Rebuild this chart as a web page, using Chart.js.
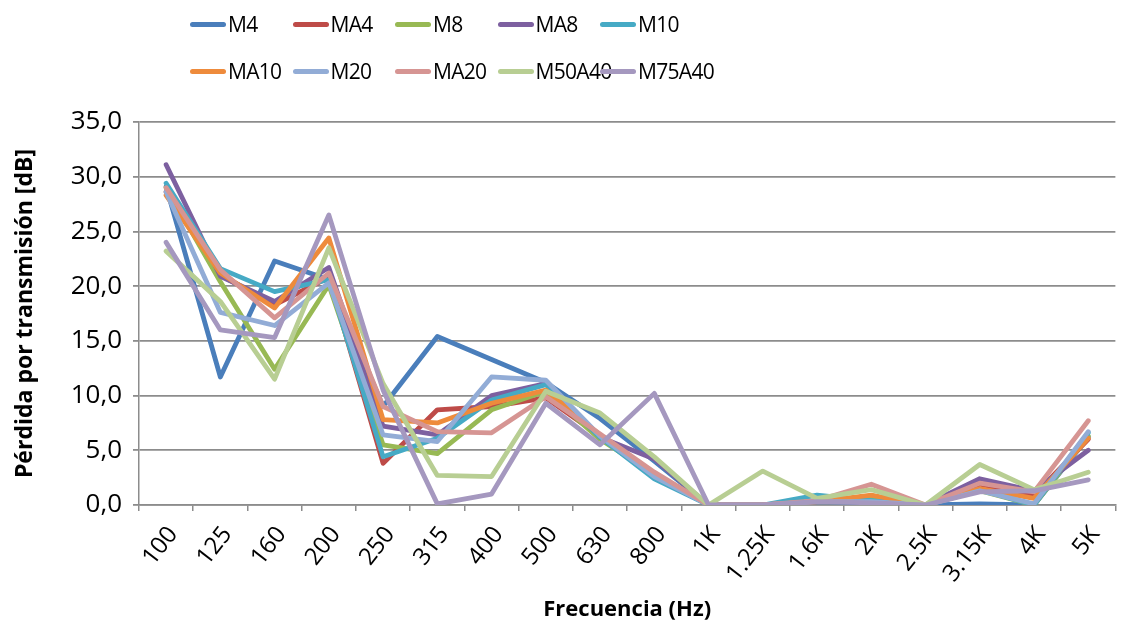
<!DOCTYPE html>
<html>
<head>
<meta charset="utf-8">
<script src="https://cdn.jsdelivr.net/npm/chart.js@4"></script>
<style>
  html, body { margin: 0; padding: 0; background: #fff; }
  #wrap { position: relative; width: 1121px; height: 623px; }
  #legend { position: absolute; left: 190px; top: 10px; width: 520px; font-family: "Open Sans", sans-serif; font-size: 21px; letter-spacing: -0.7px; color: #000; }
  .item { position: absolute; display: flex; align-items: center; white-space: nowrap; }
  .swatch { width: 36px; height: 5px; border-radius: 3px; margin-right: 2px; }
</style>
</head>
<body>
<div id="wrap">
  <canvas id="chart" width="1121" height="623"></canvas>
  <div id="legend"></div>
</div>
<script>
// ---------- DATA ----------
const freqs = ["100","125","160","200","250","315","400","500","630","800","1K","1.25K","1.6K","2K","2.5K","3.15K","4K","5K"];
const seriesNames = ["M4","MA4","M8","MA8","M10","MA10","M20","MA20","M50A40","M75A40"];
const seriesColors = ["#4A7EBB","#BE4B48","#98B954","#7D60A0","#46AAC5","#EE8B3C","#92ACD6","#D69593","#B8CE93","#A598BF"];

const m4     = [29.1, 11.7, 22.3, 20.6,  9.0, 15.4, 13.3, 11.2, 7.9,  4.0, 0, 0,   0.3, 0.2, 0, 0.1, 0,   6.2];
const ma4    = [28.6, 21.0, 18.3, 20.8,  3.8,  8.7,  9.0,  9.8, 6.3,  2.9, 0, 0,   0.3, 0.4, 0, 1.9, 0.9, 6.0];
const m8     = [29.0, 20.4, 12.4, 20.1,  5.5,  4.7,  8.7, 10.4, 6.0,  2.8, 0, 0,   0.3, 0.6, 0, 1.3, 0,   6.3];
const ma8    = [31.1, 20.9, 18.6, 21.7,  7.2,  6.4, 10.0, 11.1, 6.2,  4.2, 0, 0,   0.3, 0.3, 0, 2.4, 1.3, 5.0];
const m10    = [29.4, 21.6, 19.5, 20.6,  4.4,  6.1,  9.6, 11.0, 6.2,  2.4, 0, 0,   0.9, 0.4, 0, 1.4, 0,   6.6];
const ma10   = [28.3, 21.2, 18.0, 24.4,  7.8,  7.5,  9.3, 10.5, 6.4,  2.9, 0, 0,   0.3, 0.9, 0, 1.5, 0.6, 6.1];
const m20    = [28.6, 17.6, 16.4, 20.3,  6.4,  5.8, 11.7, 11.4, 6.3,  2.6, 0, 0,   0.3, 0.3, 0, 1.3, 0.1, 6.7];
const ma20   = [29.0, 21.5, 17.1, 21.2,  9.0,  6.7,  6.6,  9.9, 6.5,  3.0, 0, 0,   0.4, 1.9, 0, 2.0, 1.2, 7.7];
const m50a40 = [23.2, 18.6, 11.5, 23.5, 11.1,  2.7,  2.6, 10.4, 8.4,  4.4, 0, 3.1, 0.6, 1.4, 0, 3.7, 1.4, 3.0];
const m75a40 = [24.0, 16.0, 15.3, 26.5, 10.5,  0.1,  1.0,  9.3, 5.5, 10.2, 0, 0,   0.3, 0.2, 0, 1.2, 1.3, 2.3];

const seriesValues = [m4, ma4, m8, ma8, m10, ma10, m20, ma20, m50a40, m75a40];

const yMin = 0, yMax = 35, yStep = 5;

// ---------- LEGEND (two rows, fixed columns) ----------
const legend = document.getElementById("legend");
seriesNames.forEach((name, i) => {
  const el = document.createElement("div");
  el.className = "item";
  el.style.left = (i % 5) * 102.5 + "px";
  el.style.top = Math.floor(i / 5) * 47 + "px";
  el.innerHTML = `<span class="swatch" style="background:${seriesColors[i]}"></span><span>${name}</span>`;
  legend.appendChild(el);
});

// ---------- CHART ----------
const gridGray = "#8c8c8c";
const font = "'Open Sans', sans-serif";

new Chart(document.getElementById("chart"), {
  type: "line",
  data: {
    labels: freqs,
    datasets: seriesNames.map((name, i) => ({
      label: name,
      data: seriesValues[i],
      borderColor: seriesColors[i],
      backgroundColor: seriesColors[i],
      borderWidth: 4.8,
      pointRadius: 0,
      tension: 0,
      borderJoinStyle: "round",
      borderCapStyle: "round",
      order: seriesNames.length - i   // later series drawn on top
    }))
  },
  options: {
    responsive: false,
    animation: false,
    layout: { padding: { top: 122, left: 12, right: 2, bottom: 0 } },
    plugins: { legend: { display: false }, tooltip: { enabled: false } },
    scales: {
      x: {
        offset: true,
        grid: { drawOnChartArea: false, drawTicks: true, tickLength: 6, offset: true, color: gridGray, lineWidth: 1.5 },
        border: { color: gridGray, width: 1.5 },
        ticks: { color: "#000", font: { family: font, size: 24 }, minRotation: 52, maxRotation: 52, padding: 10, labelOffset: 7, autoSkip: false },
        title: { display: true, text: "Frecuencia (Hz)", color: "#000", font: { family: font, size: 22, weight: "bold" }, padding: { top: 0, bottom: 0 } },
        afterFit: s => { s.height = 118; }
      },
      y: {
        min: yMin, max: yMax,
        grid: { color: gridGray, lineWidth: 1.8, tickLength: 6, drawTicks: true },
        border: { color: gridGray, width: 1.5 },
        ticks: { stepSize: yStep, color: "#000", font: { family: font, size: 26 }, padding: 11,
                 callback: v => v.toFixed(1).replace(".", ",") },
        title: { display: true, text: "Pérdida por transmisión [dB]", color: "#000", font: { family: font, size: 23, weight: "bold" }, padding: { top: 0, bottom: 0 } },
        afterFit: s => { s.width = 127; }
      }
    }
  }
});
</script>
</body>
</html>
